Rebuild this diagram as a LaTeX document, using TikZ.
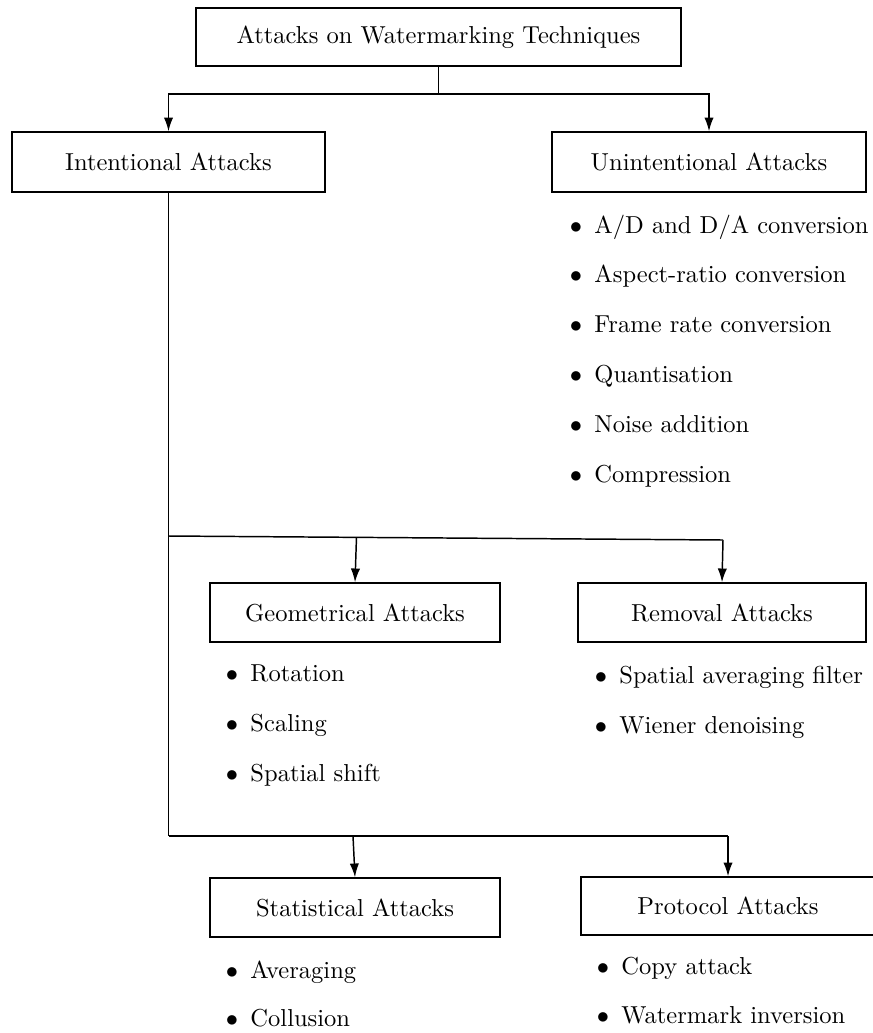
\documentclass[tikz,border=0pt]{standalone}
\usetikzlibrary{arrows.meta,calc}
\begin{document}
\begin{tikzpicture}[x=0.4077pt,y=-0.4077pt,
  box/.style={draw,line width=0.6pt,inner sep=0pt,align=center},
  conn/.style={line width=0.6pt},
  arr/.style={line width=0.6pt,-{Latex[length=5.6pt,width=3.8pt]}},
  itm/.style={anchor=base west,inner sep=0pt}]
\useasboundingbox (0,0) rectangle (872,1033);
\newcommand{\itemtext}[1]{\llap{$\bullet$\hspace{5pt}}#1}
% boxes
\node[box,minimum width={485*0.4077pt},minimum height={58*0.4077pt}] (top) at (438.5,37) {Attacks on Watermarking Techniques};
\node[box,minimum width={313*0.4077pt},minimum height={60*0.4077pt}] (int) at (168.5,162) {Intentional Attacks};
\node[box,minimum width={314*0.4077pt},minimum height={60*0.4077pt}] (unint) at (709,162) {Unintentional Attacks};
\node[box,minimum width={290*0.4077pt},minimum height={59*0.4077pt}] (geo) at (355,612.5) {Geometrical Attacks};
\node[box,minimum width={288*0.4077pt},minimum height={59*0.4077pt}] (rem) at (722,612.5) {Removal Attacks};
\node[box,minimum width={290*0.4077pt},minimum height={59*0.4077pt}] (stat) at (355,907.5) {Statistical Attacks};
\node[box,minimum width={294*0.4077pt},minimum height={58*0.4077pt}] (prot) at (728,906) {Protocol Attacks};
% lists
\node[itm] (u1) at (594,233) {\itemtext{A/D and D/A conversion}};
\node[itm] (u2) at (594,282.8) {\itemtext{Aspect-ratio conversion}};
\node[itm] (u3) at (594,332.6) {\itemtext{Frame rate conversion}};
\node[itm] (u4) at (594,382.4) {\itemtext{Quantisation}};
\node[itm] (u5) at (594,432.2) {\itemtext{Noise addition}};
\node[itm] (u6) at (594,482) {\itemtext{Compression}};
\node[itm] (g1) at (250,681) {\itemtext{Rotation}};
\node[itm] (g2) at (250,731) {\itemtext{Scaling}};
\node[itm] (g3) at (250,781) {\itemtext{Spatial shift}};
\node[itm] (r1) at (619,683) {\itemtext{Spatial averaging filter}};
\node[itm] (r2) at (619,733) {\itemtext{Wiener denoising}};
\node[itm] (s1) at (250,978) {\itemtext{Averaging}};
\node[itm] (s2) at (250,1026) {\itemtext{Collusion}};
\node[itm] (p1) at (621,974) {\itemtext{Copy attack}};
\node[itm] (p2) at (621,1023) {\itemtext{Watermark inversion}};
% connectors
\coordinate (j0) at (438.5,94);
\draw[conn] (top.south) -- (j0);
\draw[arr] (j0) -| (int.north);
\draw[arr] (j0) -| (unint.north);
\coordinate (j1) at (168.5,536);
\coordinate (j1r) at (723,540);
\coordinate (j2) at (168.5,836);
\coordinate (j2r) at (728,836);
\coordinate (j1g) at ($(j1)!0.339!(j1r)$);
\coordinate (j2s) at (353,836);
\draw[conn] (int.south) -- (j2);
\draw[conn] (j1) -- (j1r);
\draw[arr] (j1r) -- (rem.north);
\draw[arr] (j1g) -- (geo.north);
\draw[conn] (j2) -- (j2r);
\draw[arr] (j2r) -- (prot.north);
\draw[arr] (j2s) -- (stat.north);
\end{tikzpicture}
\end{document}
